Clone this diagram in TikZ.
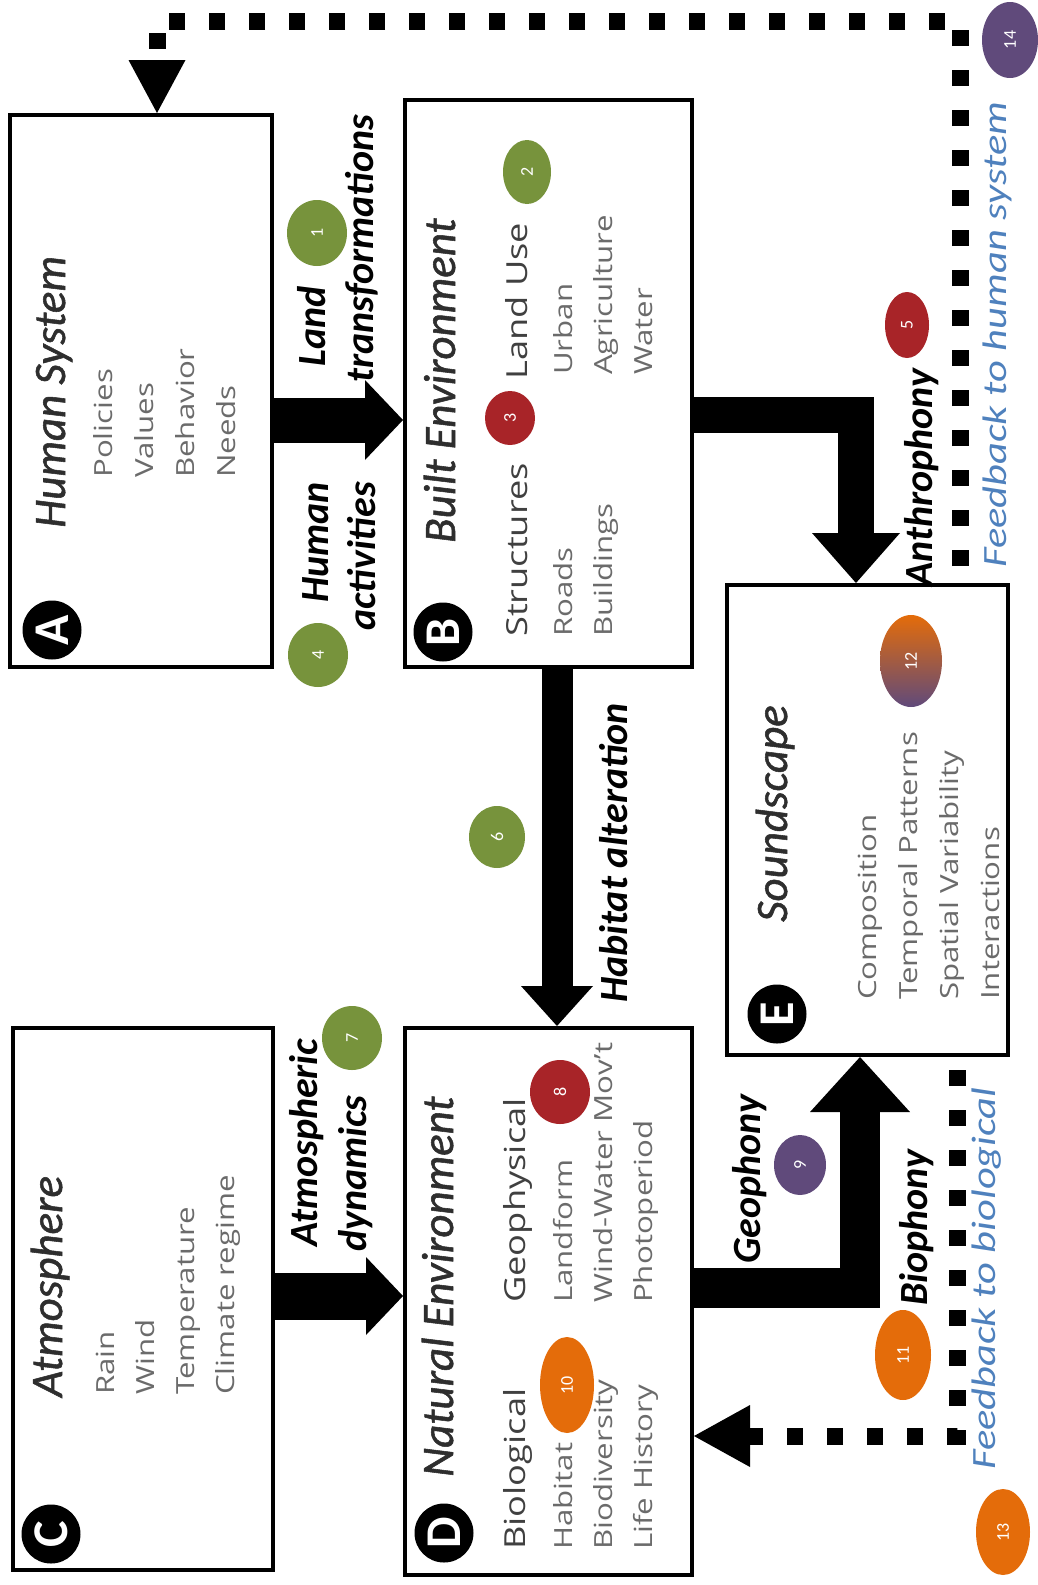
\documentclass[tikz,border=0pt]{standalone}
\usepackage{fontspec}
\setmainfont{Carlito}
\newfontfamily\listfont[FakeStretch=1.25]{Open Sans}
\newfontfamily\feedfont[FakeStretch=1.25]{Carlito}
\newfontfamily\titlefont[RawFeature={embolden=1.2}]{Carlito}
\usetikzlibrary{arrows.meta,shapes.geometric}
\definecolor{dotgreen}{RGB}{119,147,60}
\definecolor{dotred}{RGB}{168,36,40}
\definecolor{dotorange}{RGB}{228,108,10}
\definecolor{dotpurple}{RGB}{96,74,123}
\definecolor{feedblue}{RGB}{79,129,189}
\tikzset{
  fat/.style={line width=#1, line join=miter},
  feedline/.style={line width=17pt, dash pattern=on 16pt off 24pt, line join=miter}
}
\begin{document}
\begin{tikzpicture}[x=1pt,y=1pt]
				\useasboundingbox (0,0) rectangle (1037,-1585);
				
				% panels
				\begin{scope}[every node/.style={rectangle,draw,line width=4pt,inner sep=0pt}]
					\node[minimum width=262pt,minimum height=552pt] (human) at (141,-391) {};
					\node[minimum width=287pt,minimum height=567pt] (built) at (548.5,-383.5) {};
					\node[minimum width=260pt,minimum height=542pt] (atmos) at (143,-1299) {};
					\node[minimum width=287pt,minimum height=547pt] (natural) at (548.5,-1301.5) {};
					\node[minimum width=281pt,minimum height=470pt] (sound) at (867.5,-820) {};
				\end{scope}
				
				% big arrows
				\draw[fat=45pt,-{Triangle[width=80pt,length=38pt,line width=0pt]}] (human.east |- 0,-420) -- (built.west |- 0,-420);
				\draw[fat=47pt,-{Triangle[width=78pt,length=37pt,line width=0pt]}] (atmos.east |- 0,-1296) -- (natural.west |- 0,-1296);
				\draw[fat=31pt,-{Triangle[width=72pt,length=40pt,line width=0pt]}] (built.south -| 557,0) -- (natural.north -| 557,0);
				\draw[fat=36pt,-{Triangle[width=88pt,length=50pt,line width=0pt]}] (built.east |- 0,-415) -| (sound.north -| 856,0);
				\draw[fat=40pt,-{Triangle[width=100pt,length=55pt,line width=0pt]}] (natural.east |- 0,-1288) -| (sound.south -| 860,0);
				
				% feedback loops
				\coordinate (topcorner) at (960,-21);
				\draw[feedline,dash phase=23pt,-{Triangle[width=57pt,length=53pt,line width=0pt]}] (sound.north -| topcorner) -- (topcorner) -| (human.north -| 157,0);
				\draw[feedline,dash phase=27pt,-{Triangle[width=62pt,length=56pt,line width=0pt]}] (sound.south -| 957,0) |- (natural.east |- 0,-1436);
				
				% panel letters
				\begin{scope}[every node/.style={circle,fill=black,text=white,minimum size=59pt,inner sep=0pt,rotate=90,font=\fontsize{50}{50}\selectfont\bfseries}]
					\node (letA) at (52,-630) {A};
					\node (letB) at (443,-632) {B};
					\node (letC) at (51,-1534) {C};
					\node (letD) at (444,-1533) {D};
					\node (letE) at (777,-1014) {E};
				\end{scope}
				
				% panel titles
				\begin{scope}[every node/.style={rotate=90,anchor=base west,inner sep=0pt,text=black!82,font=\titlefont\fontsize{45}{54}\selectfont\itshape}]
					\node (humtitle) at (65,-528) {Human System};
					\node (builttitle) at (455,-543) {Built Environment};
					\node (atmtitle) at (62,-1397) {Atmosphere};
					\node (nattitle) at (453,-1477) {Natural Environment};
					\node (soundtitle) at (787,-922) {Soundscape};
				\end{scope}
				
				% sub headings
				\begin{scope}[every node/.style={rotate=90,anchor=base west,inner sep=0pt,text=black!75,font=\listfont\fontsize{29}{35}\selectfont}]
					\node (structs) at (527,-637) {Structures};
					\node (landuse) at (527,-380) {Land Use};
					\node (biohead) at (525,-1550) {Biological};
					\node (geohead) at (525,-1303) {Geophysical};
				\end{scope}
				
				% entries
				\begin{scope}[every node/.style={rotate=90,anchor=base west,inner sep=0pt,text=black!58,font=\listfont\fontsize{25}{30}\selectfont}]
					\node (policies) at (112,-478) {Policies};
					\node (values) at (153,-478) {Values};
					\node (behavior) at (194,-478) {Behavior};
					\node (needs) at (235,-478) {Needs};
					\node (rain) at (114,-1395) {Rain};
					\node (wind) at (154,-1395) {Wind};
					\node (temp) at (194,-1395) {Temperature};
					\node (climate) at (234,-1395) {Climate regime};
					\node (roads) at (572,-637) {Roads};
					\node (buildings) at (612,-637) {Buildings};
					\node (urban) at (572,-375) {Urban};
					\node (agri) at (612,-375) {Agriculture};
					\node (water) at (652,-375) {Water};
					\node (habitat) at (572,-1550) {Habitat};
					\node (biodiv) at (612,-1550) {Biodiversity};
					\node (lifehist) at (652,-1550) {Life History};
					\node (landform) at (572,-1303) {Landform};
					\node (windwater) at (612,-1303) {Wind-Water Mov’t};
					\node (photo) at (652,-1303) {Photoperiod};
					\node (compo) at (876,-1000) {Composition};
					\node (tempat) at (917,-1000) {Temporal Patterns};
					\node (spatvar) at (958,-1000) {Spatial Variability};
					\node (interact) at (999,-1000) {Interactions};
				\end{scope}
				
				% arrow labels
				\begin{scope}[every node/.style={rotate=90,anchor=base west,inner sep=0pt,font=\fontsize{40}{48}\selectfont\bfseries\itshape}]
					\node (landlbl) at (325,-367) {Land};
					\node (translbl) at (373,-383) {transformations};
					\node[anchor=base east] (humlbl) at (328,-482) {Human};
					\node[anchor=base east] (actlbl) at (375,-482) {activities};
					\node (atmlbl) at (317,-1247) {Atmospheric};
					\node (dynlbl) at (366,-1252) {dynamics};
					\node (hablbl) at (627,-1003) {Habitat alteration};
					\node (anthlbl) at (932,-587) {Anthrophony};
					\node (geolbl) at (760,-1264) {Geophony};
					\node (biolbl) at (927,-1306) {Biophony};
				\end{scope}
				\begin{scope}[every node/.style={rotate=90,anchor=base west,inner sep=0pt,text=feedblue,font=\feedfont\fontsize{34}{40}\selectfont\itshape}]
					\node (fbhuman) at (1006,-568) {Feedback to human system};
					\node (fbbio) at (995,-1470) {Feedback to biological};
				\end{scope}
				
				% numbered dots
				\begin{scope}[every node/.style={ellipse,inner sep=0pt,rotate=90,text=white,font=\fontsize{18}{18}\selectfont}]
					\node[fill=dotgreen,minimum width=66pt,minimum height=60pt] (n1) at (317,-233) {1};
					\node[fill=dotgreen,minimum width=64pt,minimum height=48pt] (n2) at (527,-172) {2};
					\node[fill=dotred,minimum width=54pt,minimum height=50pt] (n3) at (510,-418) {3};
					\node[fill=dotgreen,minimum width=64pt,minimum height=60pt] (n4) at (318,-655) {4};
					\node[fill=dotred,minimum width=66pt,minimum height=44pt] (n5) at (907,-325) {5};
					\node[fill=dotgreen,minimum width=62pt,minimum height=56pt] (n6) at (497,-837) {6};
					\node[fill=dotgreen,minimum width=64pt,minimum height=60pt] (n7) at (352,-1038) {7};
					\node[fill=dotred,minimum width=64pt,minimum height=60pt] (n8) at (560,-1092) {8};
					\node[fill=dotpurple,minimum width=60pt,minimum height=52pt] (n9) at (800,-1165) {9};
					\node[fill=dotorange,minimum width=96pt,minimum height=54pt] (n10) at (567,-1385) {10};
					\node[fill=dotorange,minimum width=90pt,minimum height=56pt] (n11) at (903,-1355) {11};
					\node[top color=dotorange,bottom color=dotpurple,minimum width=92pt,minimum height=62pt] (n12) at (911,-661) {12};
					\node[fill=dotorange,minimum width=86pt,minimum height=54pt] (n13) at (1003,-1532) {13};
					\node[fill=dotpurple,minimum width=76pt,minimum height=56pt] (n14) at (1010,-40) {14};
				\end{scope}
			\end{tikzpicture}
\end{document}
